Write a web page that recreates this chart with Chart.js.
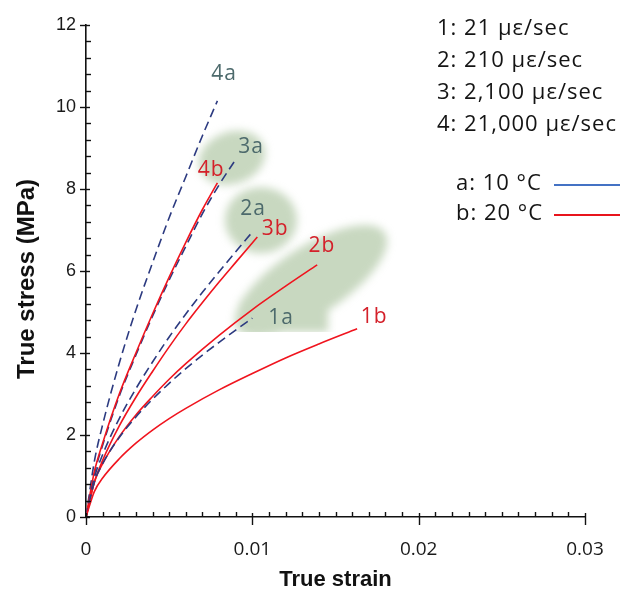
<!DOCTYPE html>
<html>
<head>
<meta charset="utf-8">
<script src="https://cdn.jsdelivr.net/npm/chart.js@4.4.1/dist/chart.umd.min.js"></script>
<style>
  html, body { margin: 0; padding: 0; background: #ffffff; }
  canvas { display: block; }
</style>
</head>
<body>
<canvas id="chart" width="625" height="600"></canvas>
<script>
// True stress–strain curves at four strain rates (1–4) and two temperatures (a, b)
const strain_4a = [0, 0.0005, 0.001, 0.002, 0.003, 0.004, 0.005, 0.006, 0.007, 0.0079];
const stress_4a = [0, 1.35, 2.25, 3.75, 5.05, 6.2, 7.3, 8.3, 9.3, 10.15];

const strain_4b = [0, 0.0005, 0.001, 0.002, 0.003, 0.004, 0.005, 0.006, 0.007, 0.0079];
const stress_4b = [0, 1.1, 1.8, 3.0, 4.0, 4.95, 5.85, 6.7, 7.5, 8.15];

const strain_3a = [0, 0.0005, 0.001, 0.002, 0.003, 0.004, 0.005, 0.006, 0.007, 0.008, 0.0089];
const stress_3a = [0, 1.05, 1.75, 2.95, 3.95, 4.9, 5.78, 6.6, 7.4, 8.1, 8.66];

const strain_3b = [0, 0.0005, 0.001, 0.002, 0.003, 0.004, 0.005, 0.006, 0.007, 0.008, 0.009, 0.0103];
const stress_3b = [0, 0.85, 1.38, 2.22, 2.92, 3.55, 4.15, 4.71, 5.23, 5.73, 6.21, 6.83];

const strain_2a = [0, 0.0005, 0.001, 0.002, 0.003, 0.004, 0.005, 0.006, 0.007, 0.008, 0.009, 0.01];
const stress_2a = [0, 0.95, 1.52, 2.4, 3.13, 3.78, 4.39, 4.95, 5.48, 5.98, 6.47, 6.95];

const strain_2b = [0, 0.0005, 0.001, 0.002, 0.003, 0.004, 0.005, 0.006, 0.008, 0.01, 0.012, 0.0139];
const stress_2b = [0, 0.85, 1.3, 1.96, 2.49, 2.94, 3.36, 3.74, 4.43, 5.06, 5.63, 6.15];

const strain_1a = [0, 0.0005, 0.001, 0.002, 0.003, 0.004, 0.005, 0.006, 0.007, 0.008, 0.009, 0.01];
const stress_1a = [0, 0.85, 1.3, 1.94, 2.44, 2.87, 3.26, 3.62, 3.95, 4.26, 4.56, 4.85];

const strain_1b = [0, 0.0005, 0.001, 0.002, 0.003, 0.004, 0.005, 0.006, 0.008, 0.01, 0.012, 0.014, 0.0163];
const stress_1b = [0, 0.62, 0.95, 1.42, 1.8, 2.12, 2.4, 2.65, 3.1, 3.5, 3.88, 4.22, 4.59];

// Curve tags placed next to the curve ends
const tagText   = ['4a', '3a', '4b', '2a', '3b', '2b', '1a', '1b'];
const tagStrain = [0.0083, 0.00992, 0.00752, 0.01004, 0.01137, 0.01419, 0.01173, 0.01732];
const tagStress = [10.8, 9.02, 8.46, 7.51, 7.02, 6.61, 4.85, 4.88];

// Strain-rate and temperature key
const rateLines = ['1: 21 \u03bc\u03b5/sec', '2: 210 \u03bc\u03b5/sec', '3: 2,100 \u03bc\u03b5/sec', '4: 21,000 \u03bc\u03b5/sec'];
const tempLines = ['a: 10 \u00b0C', 'b: 20 \u00b0C'];

// Axis tick labels and titles
const xTickValues = [0, 0.01, 0.02, 0.03];
const xTickLabels = ['0', '0.01', '0.02', '0.03'];
const yTickValues = [0, 2, 4, 6, 8, 10, 12];
const yTickLabels = ['0', '2', '4', '6', '8', '10', '12'];
const xTitle = 'True strain';
const yTitle = 'True stress (MPa)';

const COLOR_A = '#2c3a80';
const COLOR_B = '#f0141e';
const KEY_A = '#4472c4';
const KEY_B = '#e8141c';
const TAG_A = '#4d6a6c';
const TAG_B = '#d4202a';
const TEXT_FONT = '"Open Sans", Lato, sans-serif';
const TITLE_FONT = '"Liberation Sans", Arial, sans-serif';

function pts(xs, ys) { return xs.map((x, i) => ({ x: x, y: ys[i] })); }

function curve(label, xs, ys, dashed) {
  return {
    label: label,
    data: pts(xs, ys),
    borderColor: dashed ? COLOR_A : COLOR_B,
    borderWidth: 1.6,
    borderDash: dashed ? [9, 5] : [],
    pointRadius: 0,
    fill: false,
    cubicInterpolationMode: 'monotone'
  };
}

const datasets = [
  curve('1b', strain_1b, stress_1b, false),
  curve('1a', strain_1a, stress_1a, true),
  curve('2b', strain_2b, stress_2b, false),
  curve('2a', strain_2a, stress_2a, true),
  curve('3b', strain_3b, stress_3b, false),
  curve('4b', strain_4b, stress_4b, false),
  curve('3a', strain_3a, stress_3a, true),
  curve('4a', strain_4a, stress_4a, true)
];

// Soft highlight regions behind the curve tags (centres in data units)
const highlights = [
  { sx: 0.00878, sy: 8.76, rx: 34, ry: 26, rot: -20 },
  { sx: 0.01052, sy: 7.24, rx: 36, ry: 33, rot: 0 },
  { sx: 0.01353, sy: 5.76, rx: 88, ry: 34, rot: -33, patch: [0.00926, 0.01455, 4.51, 5.29] }
];

const highlightPlugin = {
  id: 'highlights',
  beforeDatasetsDraw(chart) {
    const ctx = chart.ctx, xs = chart.scales.x, ys = chart.scales.y;
    ctx.save();
    ctx.filter = 'blur(4px)';
    ctx.fillStyle = 'rgba(150,180,135,0.52)';
    highlights.forEach(h => {
      const cx = xs.getPixelForValue(h.sx), cy = ys.getPixelForValue(h.sy);
      ctx.save();
      if (h.patch) {
        const bottom = ys.getPixelForValue(h.patch[2]);
        ctx.beginPath();
        ctx.rect(0, 0, chart.width, bottom);
        ctx.clip();
      }
      ctx.beginPath();
      ctx.ellipse(cx, cy, h.rx, h.ry, h.rot * Math.PI / 180, 0, Math.PI * 2);
      if (h.patch) {
        const x0 = xs.getPixelForValue(h.patch[0]), x1 = xs.getPixelForValue(h.patch[1]);
        const y0 = ys.getPixelForValue(h.patch[3]), y1 = ys.getPixelForValue(h.patch[2]);
        ctx.rect(x0, y0, x1 - x0, y1 - y0);
      }
      ctx.fill('nonzero');
      ctx.restore();
    });
    ctx.restore();
  }
};

const annotationPlugin = {
  id: 'annotations',
  afterDraw(chart) {
    const ctx = chart.ctx, xs = chart.scales.x, ys = chart.scales.y;
    const ca = chart.chartArea;
    ctx.save();

    // Tick marks: majors cross the axis, minors point into the plot
    ctx.strokeStyle = '#111111';
    ctx.lineWidth = 1.4;
    const x0 = xs.getPixelForValue(0), y0 = ys.getPixelForValue(0);
    for (let i = 0; i <= 30; i++) {
      const v = i * 0.4;
      const py = Math.round(ys.getPixelForValue(v)) + 0.5;
      ctx.beginPath();
      if (i % 5 === 0) { ctx.moveTo(x0 - 6, py); ctx.lineTo(x0 + 4, py); }
      else { ctx.moveTo(x0, py); ctx.lineTo(x0 + 5, py); }
      ctx.stroke();
    }
    for (let i = 0; i <= 30; i++) {
      const v = i * 0.001;
      const px = Math.round(xs.getPixelForValue(v)) + 0.5;
      ctx.beginPath();
      if (i % 10 === 0) { ctx.moveTo(px, y0 + 8); ctx.lineTo(px, y0 - 4); }
      else { ctx.moveTo(px, y0); ctx.lineTo(px, y0 - 5); }
      ctx.stroke();
    }

    // Vertical axis title, centred a little below the middle of the axis
    ctx.save();
    ctx.translate(27, (ca.top + ca.bottom) / 2 + 8);
    ctx.rotate(-Math.PI / 2);
    ctx.font = 'bold 24px ' + TITLE_FONT;
    ctx.fillStyle = '#111111';
    ctx.textAlign = 'center';
    ctx.textBaseline = 'middle';
    ctx.fillText(yTitle, 0, 0);
    ctx.restore();

    // Curve tags
    ctx.font = '21px ' + TEXT_FONT;
    ctx.letterSpacing = '1px';
    ctx.textAlign = 'center';
    ctx.textBaseline = 'middle';
    tagText.forEach((t, i) => {
      ctx.fillStyle = t.endsWith('a') ? TAG_A : TAG_B;
      ctx.fillText(t, xs.getPixelForValue(tagStrain[i]), ys.getPixelForValue(tagStress[i]));
    });

    // Key in the upper right
    ctx.textAlign = 'left';
    ctx.font = '22px ' + TEXT_FONT;
    ctx.letterSpacing = '1px';
    const kx = ca.right - 148;
    rateLines.forEach((t, i) => {
      ctx.fillStyle = '#141414';
      ctx.fillText(t, kx, ca.top + 4 + i * 32);
    });
    const tx = kx + 19;
    tempLines.forEach((t, i) => {
      const ty = ca.top + 159 + i * 30;
      ctx.fillStyle = '#141414';
      ctx.fillText(t, tx, ty);
      ctx.strokeStyle = i === 0 ? KEY_A : KEY_B;
      ctx.lineWidth = 2;
      ctx.beginPath();
      ctx.moveTo(ca.right - 31, ty + 1);
      ctx.lineTo(ca.right + 35, ty + 1);
      ctx.stroke();
    });
    ctx.restore();
  }
};

new Chart(document.getElementById('chart'), {
  type: 'line',
  data: { datasets: datasets },
  plugins: [highlightPlugin, annotationPlugin],
  options: {
    responsive: false,
    animation: false,
    devicePixelRatio: 1,
    plugins: { legend: { display: false }, tooltip: { enabled: false } },
    layout: { padding: { left: 0, right: 40, top: 25, bottom: 0 } },
    scales: {
      x: {
        type: 'linear',
        min: 0,
        max: 0.03,
        afterBuildTicks: s => { s.ticks = xTickValues.map(v => ({ value: v })); },
        afterFit: s => { s.height = 83; },
        grid: { display: false, drawTicks: false },
        border: { display: true, color: '#111111', width: 1.6 },
        ticks: {
          padding: 21,
          color: '#1a1a1a',
          font: { family: TEXT_FONT, size: 19 },
          maxRotation: 0,
          autoSkip: false,
          callback: v => xTickLabels[xTickValues.indexOf(v)]
        },
        title: {
          display: true,
          text: xTitle,
          color: '#111111',
          font: { family: TITLE_FONT, size: 22, weight: 'bold' },
          padding: { top: 0, bottom: 7 }
        }
      },
      y: {
        type: 'linear',
        min: 0,
        max: 12,
        afterBuildTicks: s => { s.ticks = yTickValues.map(v => ({ value: v })); },
        afterFit: s => { s.width = 86; },
        grid: { display: false, drawTicks: false },
        border: { display: true, color: '#111111', width: 1.6 },
        ticks: {
          padding: 10,
          color: '#1a1a1a',
          font: { family: TITLE_FONT, size: 18 },
          autoSkip: false,
          callback: v => yTickLabels[yTickValues.indexOf(v)]
        },
        title: { display: false }
      }
    }
  }
});
</script>
</body>
</html>
